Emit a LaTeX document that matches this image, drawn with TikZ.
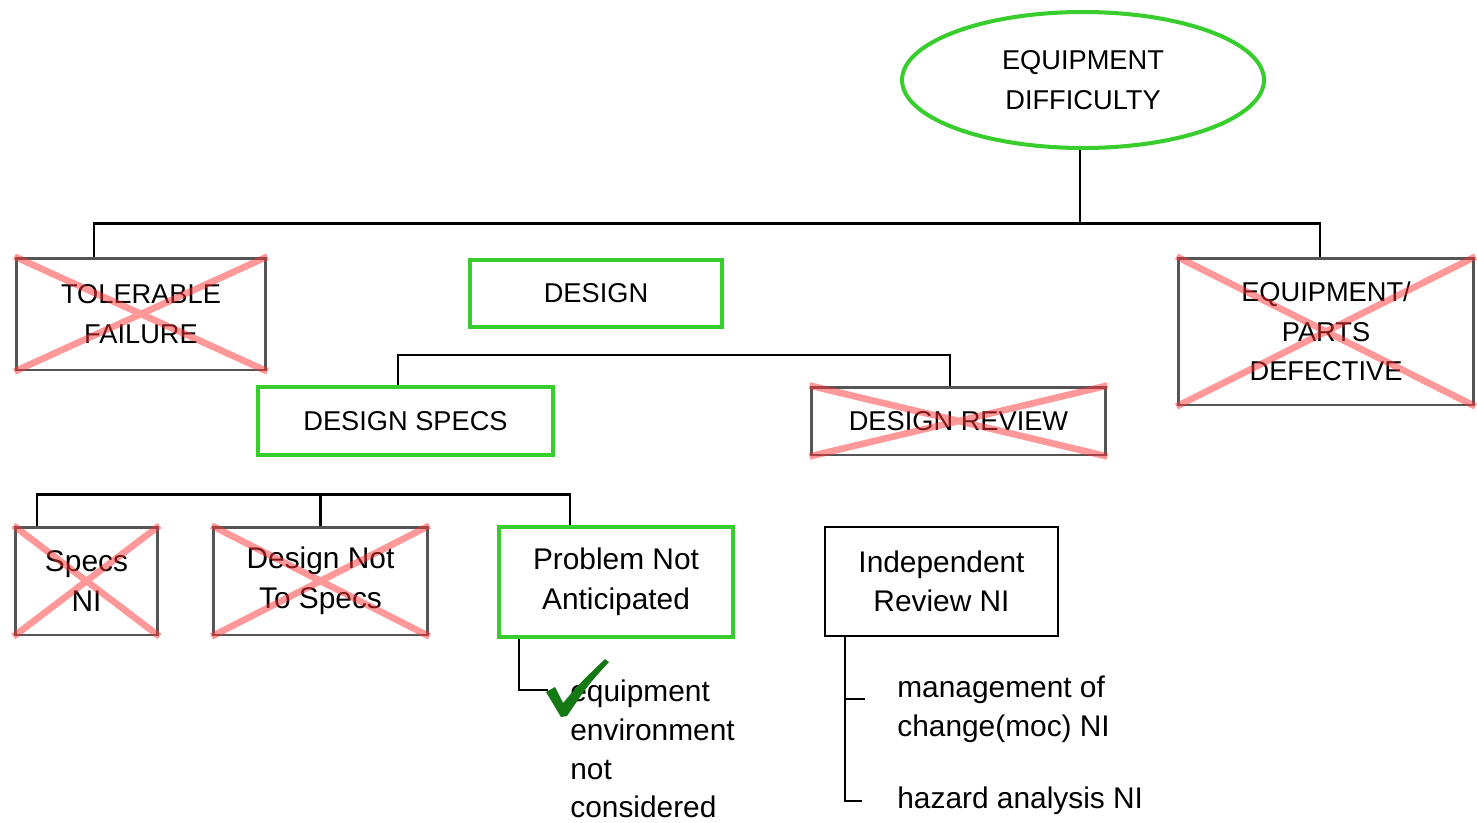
\documentclass[tikz,border=0pt]{standalone}
\usepackage{fontspec}
\setmainfont{Liberation Sans}
\usetikzlibrary{shapes.geometric,calc}
\definecolor{okgreen}{RGB}{55,205,45}
\definecolor{boxgray}{RGB}{85,85,85}
\definecolor{tickgreen}{RGB}{20,120,20}

\begin{document}
\begin{tikzpicture}[x=0.02cm,y=-0.02cm,
  font=\fontsize{15.5}{22.5}\selectfont,
  lower/.style={font=\fontsize{17}{22.5}\selectfont},
  box/.style={draw=boxgray,line width=1.7pt,inner sep=0pt,align=center},
  okbox/.style={draw=okgreen,line width=2.3pt,inner sep=0pt,align=center},
  plainbox/.style={draw=black,line width=1.2pt,inner sep=0pt,align=center},
  cross/.style={red!80,opacity=.5,line width=3.8pt},
  conn/.style={line width=1.2pt}]
\useasboundingbox (0,0) rectangle (1477,822);
% top event
\node[ellipse,draw=okgreen,line width=2.3pt,minimum width=7.24cm,minimum height=2.72cm,inner sep=0pt,align=center] (root) at (1083,80) {EQUIPMENT\\DIFFICULTY};
% first level
\node[box,minimum width=5cm,minimum height=2.24cm] (tol) at (141,314) {TOLERABLE\\FAILURE};
\node[okbox,minimum width=5.04cm,minimum height=1.34cm] (design) at (596,293.5) {DESIGN};
\node[box,minimum width=5.92cm,minimum height=2.94cm] (parts) at (1326,331.5) {EQUIPMENT/\\PARTS\\DEFECTIVE};
% second level
\node[okbox,minimum width=5.9cm,minimum height=1.36cm] (specs) at (405.5,421) {DESIGN SPECS};
\node[box,minimum width=5.9cm,minimum height=1.36cm] (review) at (958.5,421) {DESIGN REVIEW};
% third level
\node[box,lower,minimum width=2.86cm,minimum height=2.16cm] (specsni) at (86.5,581) {Specs\\NI};
\node[box,lower,minimum width=4.3cm,minimum height=2.16cm] (notspecs) at (320.5,581) {Design Not\\To Specs};
\node[okbox,lower,minimum width=4.68cm,minimum height=2.2cm] (problem) at (616,582) {Problem Not\\Anticipated};
\node[plainbox,lower,minimum width=4.66cm,minimum height=2.18cm] (indep) at (941.5,581.5) {Independent\\Review NI};
% leaves
\node[lower,anchor=west,inner sep=0pt,align=left,font=\fontsize{17}{22}\selectfont] (envir) at (570,749) {equipment\\environment\\not\\considered};
\node[lower,anchor=west,inner sep=0pt,align=left] (moc) at (897,709.5) {management of\\change(moc) NI};
\node[lower,anchor=west,inner sep=0pt] (hazard) at (897,801) {hazard analysis NI};

% connectors
\draw[conn] ($(tol.north)+(-47,0)$) -- ++(0,-33) coordinate (bus1) -| ($(parts.north)+(-6,0)$);
\coordinate (stem) at ($(root.south)+(-3,0)$);
\draw[conn] (stem) -- (stem |- bus1);
\draw[conn] ($(design.north)+(8,0)$) -- ($(design.north)+(8,0)$ |- bus1);
\draw[conn] ($(specs.north)+(-7.5,0)$) -- ++(0,-30) coordinate (bus2) -| ($(review.north)+(-8.5,0)$);
\draw[conn] ($(design.south)+(14,0)$) -- ($(design.south)+(14,0)$ |- bus2);
\draw[conn] ($(specsni.north)+(-49.5,0)$) -- ++(0,-31) coordinate (bus3) -| ($(problem.north)+(-46,0)$);
\draw[conn] ($(specs.south)+(-13.5,0)$) -- ($(specs.south)+(-13.5,0)$ |- bus3);
\draw[conn] (notspecs.north) -- (notspecs.north |- bus3);
\draw[conn] ($(review.south)+(-13.5,0)$) -- ($(review.south)+(-13.5,0)$ |- indep.north);
\draw[conn] ($(problem.south)+(-97,0)$) |- ($(envir.west)+(-22,-59)$);
\draw[conn] ($(indep.south)+(-96.5,0)$) |- ($(hazard.west)+(-35,0)$);
\draw[conn] ($(indep.south)+(-96.5,62)$) -- ++(20,0);

% crossed out branches
\foreach \n in {tol,parts,review,specsni,notspecs}
  \draw[cross] (\n.north west) -- (\n.south east) (\n.south west) -- (\n.north east);

% check mark
\fill[tickgreen] (546,692) -- (555,687) -- (563,703) .. controls (580,683) .. (605,659) -- (609,662) .. controls (588,685) .. (567,716) -- (561,717) -- cycle;
\end{tikzpicture}
\end{document}
